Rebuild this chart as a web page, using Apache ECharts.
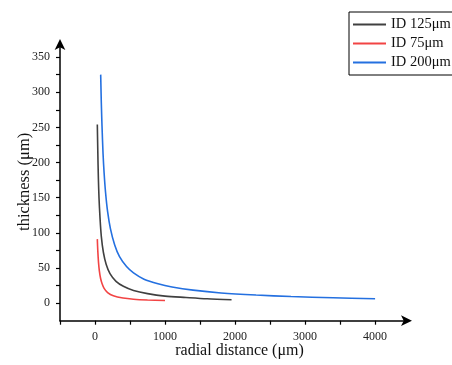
<!DOCTYPE html>
<html>
<head>
<meta charset="utf-8">
<script src="https://cdn.jsdelivr.net/npm/echarts@6/dist/echarts.min.js"></script>
<style>
  html, body { margin: 0; padding: 0; background: #fff; }
  #chart { width: 452px; height: 365px; }
</style>
</head>
<body>
<div id="chart"></div>
<script>
// values
const seriesNames = ["ID 125\u03bcm", "ID 75\u03bcm", "ID 200\u03bcm"];

const id125X = [33, 40, 48, 57, 71, 90, 120, 160, 214, 300, 405, 550, 750, 1000, 1300, 1600, 1950];
const id125Y = [254, 215, 178, 150, 122, 95, 72, 55, 42, 31, 24, 18, 13.5, 10, 8, 6.2, 4.9];

const id75X = [33, 40, 50, 62, 80, 100, 130, 180, 262, 400, 550, 750, 1000];
const id75Y = [91, 74, 58, 46, 35, 28, 21, 15, 10.4, 7.2, 5.6, 4.5, 3.7];

const id200X = [81, 90, 100, 115, 130, 150, 180, 220, 280, 350, 450, 550, 700, 900, 1100, 1400, 1800, 2300, 2800, 3400, 4000];
const id200Y = [325, 285, 252, 212, 185, 158, 130, 106, 83, 66, 52, 43, 34, 27.5, 23, 18.5, 14.5, 11.5, 9.4, 7.6, 6.2];

const xTicks = [-500, 0, 500, 1000, 1500, 2000, 2500, 3000, 3500, 4000];
const xLabels = [0, 1000, 2000, 3000, 4000];
const yTicks = [0, 25, 50, 75, 100, 125, 150, 175, 200, 225, 250, 275, 300, 325, 350];
const yLabels = [0, 50, 100, 150, 200, 250, 300, 350];

const colors = ["#404040", "#f24444", "#2470e0"];

const pairs = (xs, ys) => xs.map((x, i) => [x, ys[i]]);
const serif = "'Liberation Serif', 'DejaVu Serif', serif";

const chart = echarts.init(document.getElementById("chart"));

const axisLine = {
  show: true,
  onZero: false,
  symbol: ["none", "arrow"],
  symbolSize: [8, 11],
  symbolOffset: [0, 4],
  lineStyle: { color: "#000", width: 1.5 }
};

chart.setOption({
  animation: false,
  textStyle: { fontFamily: serif },
  grid: { left: 60, right: 44, top: 43, bottom: 44.3, containLabel: false, outerBoundsMode: "none" },
  legend: {
    left: 349,
    top: 12,
    orient: "vertical",
    padding: [5, 12, 5, 3],
    itemGap: 4,
    itemWidth: 33,
    itemHeight: 14,
    borderColor: "#000",
    borderWidth: 1,
    itemStyle: { opacity: 0 },
    textStyle: { fontFamily: serif, fontSize: 14.5, color: "#111" },
    data: seriesNames
  },
  xAxis: {
    type: "value",
    min: -500,
    max: 4470,
    name: "radial distance (\u03bcm)",
    nameLocation: "middle",
    nameGap: 22,
    nameMoveOverlap: false,
    nameTextStyle: { fontFamily: serif, fontSize: 16, color: "#111", padding: [0, 0, 0, 11] },
    axisLine: axisLine,
    axisTick: { show: true, customValues: xTicks, length: 4, lineStyle: { color: "#000", width: 1.2 } },
    axisLabel: { customValues: xLabels, formatter: v => String(v), margin: 10, fontFamily: serif, fontSize: 12, color: "#222" },
    splitLine: { show: false }
  },
  yAxis: {
    type: "value",
    min: -25,
    max: 370,
    name: "thickness (\u03bcm)",
    nameLocation: "middle",
    nameGap: 27,
    nameMoveOverlap: false,
    nameTextStyle: { fontFamily: serif, fontSize: 16.5, color: "#111" },
    axisLine: axisLine,
    axisTick: { show: true, customValues: yTicks, length: 4, lineStyle: { color: "#000", width: 1.2 } },
    axisLabel: { customValues: yLabels, formatter: v => String(v), margin: 10, fontFamily: serif, fontSize: 12, color: "#222" },
    splitLine: { show: false }
  },
  series: [
    { name: seriesNames[0], data: pairs(id125X, id125Y), color: colors[0] },
    { name: seriesNames[1], data: pairs(id75X, id75Y), color: colors[1] },
    { name: seriesNames[2], data: pairs(id200X, id200Y), color: colors[2] }
  ].map(s => ({
    name: s.name,
    type: "line",
    data: s.data,
    symbol: "none",
    smooth: 0.3,
    lineStyle: { color: s.color, width: 1.6 },
    itemStyle: { color: s.color }
  }))
});
</script>
</body>
</html>
